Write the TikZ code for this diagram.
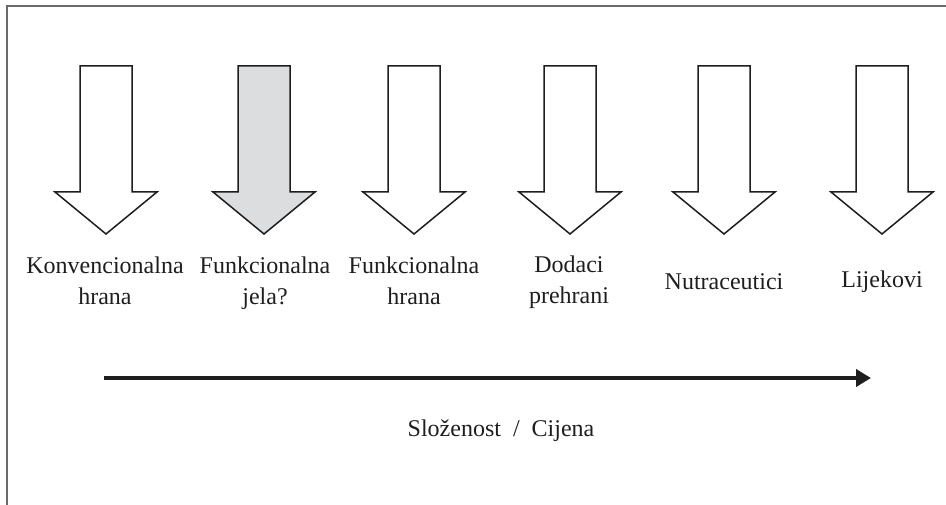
\documentclass[tikz,border=0pt]{standalone}
\usepackage{fontspec}
\setmainfont{Liberation Serif}
\usetikzlibrary{arrows.meta}
\definecolor{inkc}{HTML}{1E1E1E}
\definecolor{framec}{HTML}{6A6A6A}
\definecolor{grayfill}{HTML}{DCDDDF}
\tikzset{
  downarrow/.style={draw=inkc, line width=1.5pt, line join=miter, fill=white},
  lbl/.style={anchor=base, align=center, text=inkc, inner sep=0pt,
    font=\fontsize{24}{31}\selectfont},
  axis/.style={draw=inkc, line width=4pt, -{Triangle[length=15pt,width=17pt]}}
}
\newcommand{\bigdown}[3]{% center, name, fill
  \draw[downarrow, fill=#3] (#1-26,66) -- (#1+26,66) -- (#1+26,192) -- (#1+51,192)
    -- (#1,234) -- (#1-51,192) -- (#1-26,192) -- cycle;
  \coordinate (#2) at (#1,234);
}
\begin{document}
\begin{tikzpicture}[x=1pt,y=-1pt]
\useasboundingbox (0,0) rectangle (946,505);
% frame
\draw[framec, line width=2pt] (7,506) -- (7,6) -- (947,6);
% down arrows
\bigdown{106}{a1}{white}
\bigdown{264}{a2}{grayfill}
\bigdown{414}{a3}{white}
\bigdown{570}{a4}{white}
\bigdown{724}{a5}{white}
\bigdown{882}{a6}{white}
% labels (base anchor = baseline of last line)
\node[lbl] (l1) at (105,305) {Konvencionalna\\hrana};
\node[lbl] (l2) at (265,305) {Funkcionalna\\jela?};
\node[lbl] (l3) at (414,305) {Funkcionalna\\hrana};
\node[lbl] (l4) at (569,304) {Dodaci\\prehrani};
\node[lbl] (l5) at (724,290) {Nutraceutici};
\node[lbl] (l6) at (882,288) {Lijekovi};
% axis
\coordinate (s) at (104,378);
\coordinate (e) at (871,378);
\draw[axis] (s) -- (e);
\node[lbl] (ax) at (501,436) {Složenost\ \ /\ \ Cijena};
\end{tikzpicture}
\end{document}
